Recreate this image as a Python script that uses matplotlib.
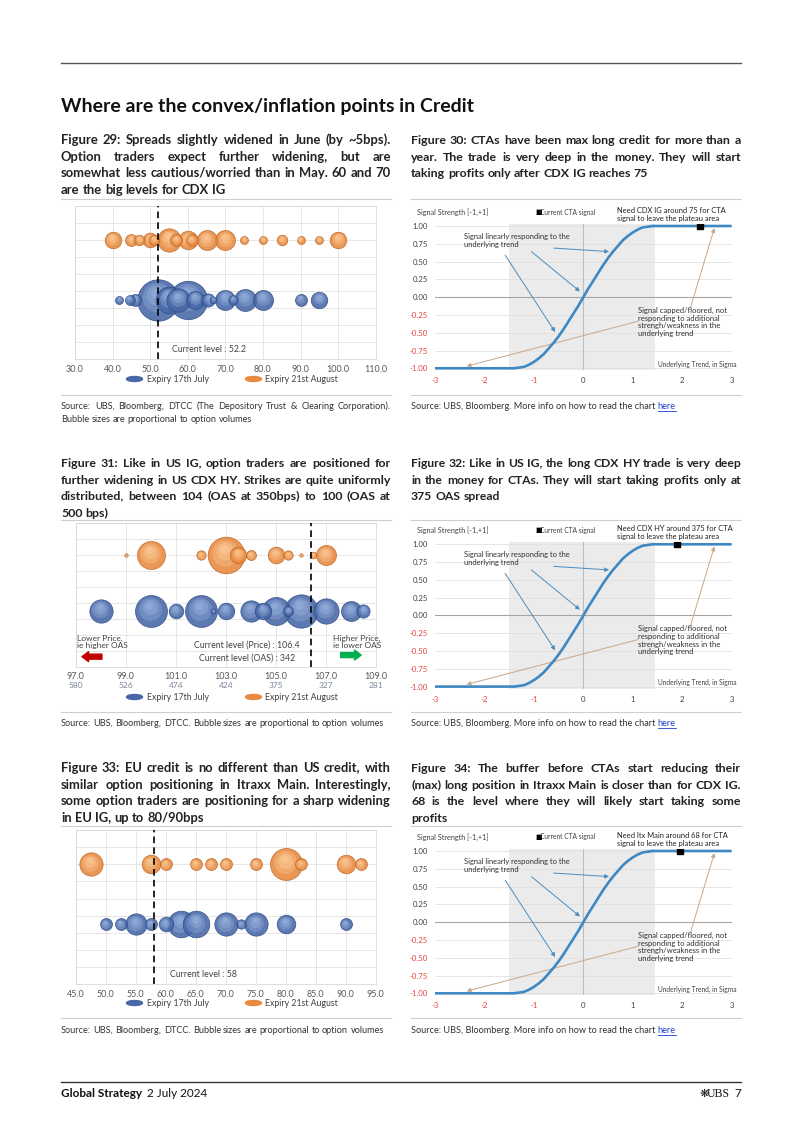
import numpy as np
import matplotlib
matplotlib.use("Agg")
import matplotlib.pyplot as plt
from matplotlib import font_manager
from matplotlib.font_manager import FontProperties
from matplotlib.lines import Line2D
from matplotlib.patches import Ellipse
from matplotlib.transforms import offset_copy, blended_transform_factory

W, H = 802, 1134

# Figure 29 - CDX IG option strikes, bubble = option volume
ig_jul_strike = [41.7, 44.5, 46, 52, 55, 57.5, 60, 62, 65.5, 66.8, 70, 72, 75.2, 80, 90, 95]
ig_jul_volume = [16, 25, 36, 430, 178, 136, 370, 80, 44, 11, 100, 22, 121, 100, 36, 69]
ig_aug_strike = [40, 45, 47, 50, 51, 55, 57, 60, 61, 65, 70, 75, 80, 85, 90, 95, 100]
ig_aug_volume = [69, 36, 28, 54, 28, 136, 36, 87, 36, 100, 100, 16, 16, 28, 16, 16, 69]
ig_current = 52.2
ig_ticks = [30, 40, 50, 60, 70, 80, 90, 100, 110]

# Figure 31 - CDX HY option strikes (price, with OAS equivalent)
hy_jul_price = [98, 100, 101, 102, 102.5, 103, 104, 104.5, 105, 105.5, 106, 107, 108, 108.5]
hy_jul_volume = [136, 256, 54, 256, 7, 69, 114, 69, 196, 25, 278, 160, 100, 44]
hy_aug_price = [99, 100, 102, 103, 103.5, 104, 105, 105.5, 106, 106.5, 107]
hy_aug_volume = [3, 196, 22, 336, 69, 25, 69, 22, 3, 11, 100]
hy_price_ticks = [97, 99, 101, 103, 105, 107, 109]
hy_oas_ticks = [580, 526, 474, 424, 375, 327, 281]
hy_current_price = 106.4
hy_current_oas = 342

# Figure 33 - Itraxx Main option strikes
eu_jul_strike = [50, 52.5, 55, 57.5, 60, 62.5, 65, 70, 72.5, 75, 80, 90]
eu_jul_volume = [36, 36, 114, 36, 54, 178, 178, 136, 22, 136, 87, 36]
eu_aug_strike = [47.5, 57.5, 60, 65, 67.5, 70, 75, 80, 82.5, 90, 92.5]
eu_aug_volume = [136, 87, 36, 36, 36, 36, 36, 256, 36, 87, 36]
eu_current = 58
eu_ticks = [45, 50, 55, 60, 65, 70, 75, 80, 85, 90, 95]

# rows of the two expiries in the bubble charts
ROW_AUG = 7
ROW_JUL = 3.5

# CTA signal vs underlying trend
cta_trend = [-3.0, -1.4, -1.3, -1.2, -1.1, -1.0, -0.9, -0.8, -0.7, -0.6, -0.5, -0.4, -0.3, -0.2, -0.1,
             0.0, 0.1, 0.2, 0.3, 0.4, 0.5, 0.6, 0.7, 0.8, 0.9, 1.0, 1.1, 1.2, 1.3, 1.4, 3.0]
cta_signal = [-1.0, -1.0, -0.99, -0.98, -0.95, -0.91, -0.86, -0.80, -0.72, -0.64, -0.55, -0.45, -0.34, -0.23, -0.12,
              0.0, 0.12, 0.23, 0.34, 0.45, 0.55, 0.64, 0.72, 0.80, 0.86, 0.91, 0.95, 0.98, 0.99, 1.0, 1.0]
cta_yticks = [1.0, 0.75, 0.5, 0.25, 0.0, -0.25, -0.5, -0.75, -1.0]
cta_xticks = [-3, -2, -1, 0, 1, 2, 3]
cta_now_ig = 2.35
cta_now_hy = 1.9
cta_now_eu = 1.95
cta_now_signal = 1.0

names = {f.name for f in font_manager.fontManager.ttflist}
NARROW = "Liberation Sans Narrow" if "Liberation Sans Narrow" in names else "Lato"
plt.rcParams["font.family"] = [NARROW, "DejaVu Sans"]

ORANGE = ("#B9611F", "#E8893F", "#FCCB98")
BLUE = ("#284783", "#4767A6", "#98B2DE")
TXT = "#222222"

fig = plt.figure(figsize=(W / 100, H / 100), dpi=100)
renderer = fig.canvas.get_renderer()


def ftext(x, y, s, **kw):
    return fig.text(x / W, 1 - y / H, s, **kw)


def hline(x0, x1, y, color="#CFCFCF", lw=0.8):
    fig.add_artist(Line2D([x0 / W, x1 / W], [1 - y / H] * 2, transform=fig.transFigure, color=color, lw=lw))


def width_of(s, size, weight):
    t = fig.text(0, 0, s, fontsize=size, fontweight=weight, family=NARROW)
    w = t.get_window_extent(renderer).width
    t.remove()
    return w


def snapped_y(word, base, size, weight):
    # agg rounds the bitmap by the word's own descent; shift so every word sits on the same pixel row
    prop = FontProperties(family=NARROW, size=size, weight=weight)
    _, h, d = renderer.get_text_width_height_descent(word, prop, False)
    return base + np.floor(h) - np.floor(h - d) - d


def paragraph(x0, x1, y0, lines, size, weight="normal", lead=16.7, color=TXT):
    # justified paragraph, placed word by word
    avail = x1 - x0
    need = max(width_of(line, size, weight) for line in lines)
    if need > avail:
        size = size * avail / need * 0.995
    sp = (width_of("a" + " " * 20 + "a", size, weight) - width_of("aa", size, weight)) / 20
    for i, line in enumerate(lines):
        words = line.split()
        ws = [width_of(w, size, weight) for w in words]
        justify = i < len(lines) - 1 and len(words) > 1
        gap = (avail - sum(ws)) / (len(words) - 1) if justify else sp
        x = x0
        base = round(y0 + i * lead)
        for w, wd in zip(words, ws):
            ftext(x, snapped_y(w, base, size, weight), w, fontsize=size, fontweight=weight, color=color,
                  va="baseline", family=NARROW)
            x += wd + gap


def bubbles(ax, xs, row, vols, pal):
    order = np.argsort(vols)[::-1]
    for i in order:
        s = vols[i] * 2.07
        r = np.sqrt(s) / 2
        ax.scatter(xs[i], row, s=s, color=pal[1], edgecolor=pal[0], linewidth=0.5, alpha=0.88, zorder=3)
        for f, a in [(0.72, 0.35), (0.48, 0.45), (0.25, 0.55)]:
            tr = offset_copy(ax.transData, fig=fig, x=-0.12 * r * (1 - f), y=0.45 * r * (1 - f), units="points")
            ax.scatter(xs[i], row, s=s * f * f, color=pal[2], alpha=a, linewidth=0, transform=tr, zorder=3)


def bubble_chart(box, xlim, ticks, jul_x, jul_v, aug_x, aug_v, current):
    l, r, t, b = box
    ax = fig.add_axes([l / W, 1 - b / H, (r - l) / W, (b - t) / H])
    ax.set_xlim(*xlim)
    ax.set_ylim(0, 9)
    ax.set_xticks(ticks)
    ax.set_xticklabels(["%.1f" % v for v in ticks])
    ax.set_yticks(range(10))
    ax.set_yticklabels([])
    ax.grid(True, color="#E2E2E2", lw=0.6)
    ax.set_axisbelow(True)
    for sp in ax.spines.values():
        sp.set_color("#D9D9D9")
        sp.set_linewidth(0.6)
    ax.tick_params(length=0, labelsize=6.5, labelcolor="#595959", pad=4)
    bubbles(ax, aug_x, ROW_AUG, aug_v, ORANGE)
    bubbles(ax, jul_x, ROW_JUL, jul_v, BLUE)
    ax.axvline(current, color="black", lw=1.2, ls=(0, (4, 2.5)), zorder=6)
    return ax


def bubble_legend(y):
    for cx, tx, col, lab in [(134.5, 147, BLUE[1], "Expiry 17th July"), (253.5, 265, ORANGE[1], "Expiry 21st August")]:
        fig.add_artist(Ellipse((cx / W, 1 - y / H), 16 / W, 5 / H, transform=fig.transFigure, color=col))
        ftext(tx, y, lab, fontsize=6.3, color="#404040", va="center")


def cta_chart(y1, note, now_x):
    ppu = 71.15
    top, bot = y1 - 0.03 * ppu, y1 + 2.03 * ppu
    ax = fig.add_axes([435 / W, 1 - bot / H, (731.7 - 435) / W, (bot - top) / H])
    ax.set_xlim(-3, 3)
    ax.set_ylim(-1.03, 1.03)
    ax.axvspan(-1.5, 1.45, color="#EBEBEB", lw=0, zorder=0)
    for v in cta_yticks:
        ax.axhline(v, color="#E0E0E0", lw=0.6, zorder=1)
    ax.axhline(0, color="#A6A6A6", lw=0.8, zorder=1)
    ax.axvline(0, color="#BDBDBD", lw=0.8, zorder=1)
    ax.plot(cta_trend, cta_signal, color="#3F88C2", lw=1.9, zorder=4, solid_capstyle="butt")
    ax.plot([now_x], [cta_now_signal], marker="s", color="black", ms=4.5, zorder=5)
    for sp in ax.spines.values():
        sp.set_visible(False)
    ax.set_yticks(cta_yticks)
    ax.set_yticklabels(["%.2f" % v for v in cta_yticks])
    ax.set_xticks(cta_xticks)
    ax.set_xticklabels([str(v) for v in cta_xticks])
    ax.tick_params(length=0, labelsize=5.6, pad=5)
    for lab, v in zip(ax.get_yticklabels(), cta_yticks):
        lab.set_color("#E0443E" if v < 0 else "#404040")
    for lab, v in zip(ax.get_xticklabels(), cta_xticks):
        lab.set_color("#E0443E" if v < 0 else "#404040")

    ftext(417, y1 - 14, "Signal Strength [-1,+1]", fontsize=5.2, color="#404040", va="center")
    ftext(535, y1 - 14, "\u25a0", fontsize=5.0, color="black", va="center", family="DejaVu Sans")
    ftext(540.5, y1 - 14, "Current CTA signal", fontsize=4.8, color="#404040", va="center")
    ftext(617, y1 - 11.5, note, fontsize=5.4, color="#202020", va="center", linespacing=1.1)
    ftext(737, y1 + 138, "Underlying Trend, in Sigma", fontsize=4.8, color="#404040", va="center", ha="right")

    ax.text(-2.42, 0.90, "Signal linearly responding to the\nunderlying trend", fontsize=5.4,
            color="#303030", va="top", linespacing=1.1)
    ax.text(1.1, -0.14, "Signal capped/floored, not\nresponding to additional\nstrengh/weakness in the\nunderlying trend",
            fontsize=5.5, color="#303030", va="top", linespacing=1.1)
    blue_arrow = dict(arrowstyle="-|>", color="#4A8DBF", lw=0.7, mutation_scale=6, shrinkA=0, shrinkB=0)
    tan_arrow = dict(arrowstyle="-|>", color="#C9A78A", lw=0.7, mutation_scale=6, shrinkA=0, shrinkB=0)
    ax.annotate("", xy=(0.52, 0.64), xytext=(-0.6, 0.69), arrowprops=blue_arrow, annotation_clip=False)
    ax.annotate("", xy=(-0.07, 0.08), xytext=(-1.05, 0.64), arrowprops=blue_arrow, annotation_clip=False)
    ax.annotate("", xy=(-0.57, -0.49), xytext=(-1.58, 0.59), arrowprops=blue_arrow, annotation_clip=False)
    ax.annotate("", xy=(-2.36, -0.97), xytext=(1.1, -0.34), arrowprops=tan_arrow, annotation_clip=False)
    ax.annotate("", xy=(2.65, 0.97), xytext=(2.16, -0.16), arrowprops=tan_arrow, annotation_clip=False)
    return ax


def source_here(y):
    t = ftext(RX0, y, "Source: UBS, Bloomberg. More info on how to read the chart ", fontsize=6.6,
              color="#333333", va="baseline")
    x = RX0 + t.get_window_extent(renderer).width
    h = ftext(x, y, "here", fontsize=6.6, color="#1F3FD0", va="baseline")
    hw = h.get_window_extent(renderer).width
    hline(x, x + hw, y + 1.5, color="#1F3FD0", lw=0.6)


# page frame
hline(61, 741, 63, color="#555555", lw=1.0)
ftext(61, 112, "Where are the convex/inflation points in Credit", fontsize=14, fontweight="bold",
      color="#111111", va="baseline")

LX0, LX1, RX0, RX1 = 61, 391, 411, 741

# ---- row 1
paragraph(LX0, LX1, 144, ["Figure 29: Spreads slightly widened in June (by ~5bps).",
                          "Option traders expect further widening, but are",
                          "somewhat less cautious/worried than in May. 60 and 70",
                          "are the big levels for CDX IG"], 9.6, "bold")
paragraph(RX0, RX1, 144, ["Figure 30: CTAs have been max long credit for more than a",
                          "year. The trade is very deep in the money. They will start",
                          "taking profits only after CDX IG reaches 75"], 9.6, "bold")
hline(LX0, LX1, 199)
hline(RX0, RX1, 199)

ax29 = bubble_chart((75, 375.7, 206, 359), (30, 110), ig_ticks, ig_jul_strike, ig_jul_volume,
                    ig_aug_strike, ig_aug_volume, ig_current)
ax29.text(55.8, 0.55, "Current level : %.1f" % ig_current, fontsize=6.3, color="#404040", va="center")
bubble_legend(379)

cta_chart(226, "Need CDX IG around 75 for CTA\nsignal to leave the plateau area", cta_now_ig)

hline(LX0, LX1, 395)
hline(RX0, RX1, 395)
paragraph(LX0, LX1, 409, ["Source: UBS, Bloomberg, DTCC (The Depository Trust & Clearing Corporation).",
                          "Bubble sizes are proportional to option volumes"], 6.6, lead=12.5, color="#333333")
source_here(409)

# ---- row 2
paragraph(LX0, LX1, 467, ["Figure 31: Like in US IG, option traders are positioned for",
                          "further widening in US CDX HY. Strikes are quite uniformly",
                          "distributed, between 104 (OAS at 350bps) to 100 (OAS at",
                          "500 bps)"], 9.6, "bold")
paragraph(RX0, RX1, 467, ["Figure 32: Like in US IG, the long CDX HY trade is very deep",
                          "in the money for CTAs. They will start taking profits only at",
                          "375 OAS spread"], 9.6, "bold")
hline(LX0, LX1, 520)
hline(RX0, RX1, 520)

ax31 = bubble_chart((75.7, 375.7, 523.3, 666.7), (97, 109), hy_price_ticks, hy_jul_price, hy_jul_volume,
                    hy_aug_price, hy_aug_volume, hy_current_price)
trans = blended_transform_factory(ax31.transData, ax31.transAxes)
for p, o in zip(hy_price_ticks, hy_oas_ticks):
    ax31.text(p, -0.13, str(o), transform=trans, fontsize=6.0, color="#7A8599", ha="center", va="center")
ax31.text(103.85, 1.36, "Current level (Price) : %.1f" % hy_current_price, fontsize=6.3, color="#404040",
          ha="center", va="center")
ax31.text(103.85, 0.56, "Current level (OAS) : %d" % hy_current_oas, fontsize=6.3, color="#404040",
          ha="center", va="center")
ax31.text(97.04, 1.55, "Lower Price,\nie higher OAS", fontsize=6.0, color="#404040", va="center", linespacing=1.0)
ax31.text(107.29, 1.55, "Higher Price,\nie lower OAS", fontsize=6.0, color="#404040", va="center", linespacing=1.0)
ax31.annotate("", xy=(97.25, 0.63), xytext=(98.05, 0.63),
              arrowprops=dict(arrowstyle="simple,head_width=0.9,head_length=0.6,tail_width=0.45",
                              color="#C00000", shrinkA=0, shrinkB=0, mutation_scale=8))
ax31.annotate("", xy=(108.42, 0.73), xytext=(107.6, 0.73),
              arrowprops=dict(arrowstyle="simple,head_width=0.9,head_length=0.6,tail_width=0.45",
                              color="#00B050", shrinkA=0, shrinkB=0, mutation_scale=8))
bubble_legend(697)

cta_chart(544.3, "Need CDX HY around 375 for CTA\nsignal to leave the plateau area", cta_now_hy)

hline(LX0, LX1, 712)
hline(RX0, RX1, 712)
paragraph(LX0, LX1, 726, ["Source: UBS, Bloomberg, DTCC. Bubble sizes are proportional to option volumes"], 6.6,
          color="#333333")
source_here(726)

# ---- row 3
paragraph(LX0, LX1, 772, ["Figure 33: EU credit is no different than US credit, with",
                          "similar option positioning in Itraxx Main. Interestingly,",
                          "some option traders are positioning for a sharp widening",
                          "in EU IG, up to 80/90bps"], 9.6, "bold")
paragraph(RX0, RX1, 772, ["Figure 34: The buffer before CTAs start reducing their",
                          "(max) long position in Itraxx Main is closer than for CDX IG.",
                          "68 is the level where they will likely start taking some",
                          "profits"], 9.6, "bold")
hline(LX0, LX1, 826)
hline(RX0, RX1, 826)

ax33 = bubble_chart((75.7, 375.7, 830, 984.3), (45, 95), eu_ticks, eu_jul_strike, eu_jul_volume,
                    eu_aug_strike, eu_aug_volume, eu_current)
ax33.text(60.7, 0.55, "Current level : %d" % eu_current, fontsize=6.3, color="#404040", va="center")
bubble_legend(1003)

cta_chart(851, "Need Itx Main around 68 for CTA\nsignal to leave the plateau area", cta_now_eu)

hline(LX0, LX1, 1018)
hline(RX0, RX1, 1018)
paragraph(LX0, LX1, 1033, ["Source: UBS, Bloomberg, DTCC. Bubble sizes are proportional to option volumes"], 6.6,
          color="#333333")
source_here(1033)

# footer
hline(61, 741, 1082, color="#333333", lw=1.0)
g = ftext(61, 1097, "Global Strategy", fontsize=8.5, fontweight="bold", color="#111111", va="baseline")
gx = 61 + g.get_window_extent(renderer).width + 5
ftext(gx, 1097, "2 July 2024", fontsize=8.5, color="#111111", va="baseline")
ftext(741, 1097, "7", fontsize=8.5, color="#111111", va="baseline", ha="right")
ftext(730, 1097, "UBS", fontsize=8.5, color="#111111", va="baseline", ha="right", family="Liberation Serif")
ftext(709, 1097, "\u274b", fontsize=8, color="#111111", va="baseline", ha="right", family="DejaVu Sans")

fig.savefig("out.png", dpi=100)
